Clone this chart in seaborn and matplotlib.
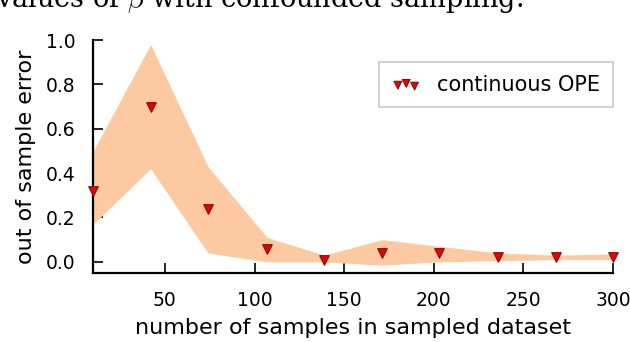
import numpy as np
import pandas as pd
import matplotlib
matplotlib.use("Agg")
import matplotlib.pyplot as plt
import seaborn as sns

# valores
n_samples = [10, 42, 74, 107, 139, 171, 203, 236, 268, 300]
erro_medio = [0.32, 0.70, 0.24, 0.06, 0.01, 0.04, 0.04, 0.02, 0.02, 0.02]
erro_sup = [0.50, 0.98, 0.43, 0.11, 0.03, 0.10, 0.07, 0.04, 0.03, 0.035]
erro_inf = [0.17, 0.42, 0.04, 0.00, 0.00, -0.015, 0.00, 0.005, 0.01, 0.01]

df = pd.DataFrame({"n": n_samples, "erro": erro_medio})

sns.set_style("ticks")
plt.rcParams["font.family"] = ["DejaVu Sans"]
plt.rcParams["font.serif"] = ["DejaVu Serif"]
plt.rcParams["mathtext.fontset"] = "cm"
for k in ["text.color", "axes.labelcolor", "xtick.color", "ytick.color"]:
    plt.rcParams[k] = "black"

fig = plt.figure(figsize=(6.3, 3.42), dpi=100)
ax = fig.add_axes([0.148, 0.202, 0.825, 0.681])

ax.fill_between(n_samples, erro_inf, erro_sup, color="#fdc9a0", linewidth=0, zorder=1)
sns.scatterplot(data=df, x="n", y="erro", marker="v", s=48, color="#ee0000",
                edgecolor="#7a1010", linewidth=0.8, ax=ax, legend=False, zorder=3,
                clip_on=False)

ax.set_xlim(10, 300)
ax.set_ylim(-0.05, 1.0)
ax.set_xticks([50, 100, 150, 200, 250, 300])
ax.set_yticks([0.0, 0.2, 0.4, 0.6, 0.8, 1.0])
ax.tick_params(direction="in", length=7, width=1.2, labelsize=13.5)
ax.tick_params(axis="x", pad=13)
ax.tick_params(axis="y", pad=13)
for s in ["top", "right"]:
    ax.spines[s].set_visible(False)
for s in ["left", "bottom"]:
    ax.spines[s].set_linewidth(1.6)
    ax.spines[s].set_color("black")

ax.set_xlabel("number of samples in sampled dataset", fontsize=16, labelpad=6)
ax.set_ylabel("out of sample error", fontsize=16, labelpad=7)

leg = ax.legend(handles=[ax.collections[-1]], labels=["continuous OPE"],
                scatterpoints=3, loc="upper right", bbox_to_anchor=(1.0, 0.905),
                borderaxespad=0.0, fontsize=15, fancybox=False, edgecolor="#bbbbbb",
                handletextpad=0.8, handlelength=1.4, borderpad=0.6,
                markerscale=0.8)
leg.get_frame().set_linewidth(1.2)

# legenda da figura original, cortada no topo
fig.text(-0.006, 0.98, r"values of $\beta$ with confounded sampling.",
         fontsize=19.5, family="serif", va="baseline", ha="left")

plt.savefig("out.png", dpi=100)
